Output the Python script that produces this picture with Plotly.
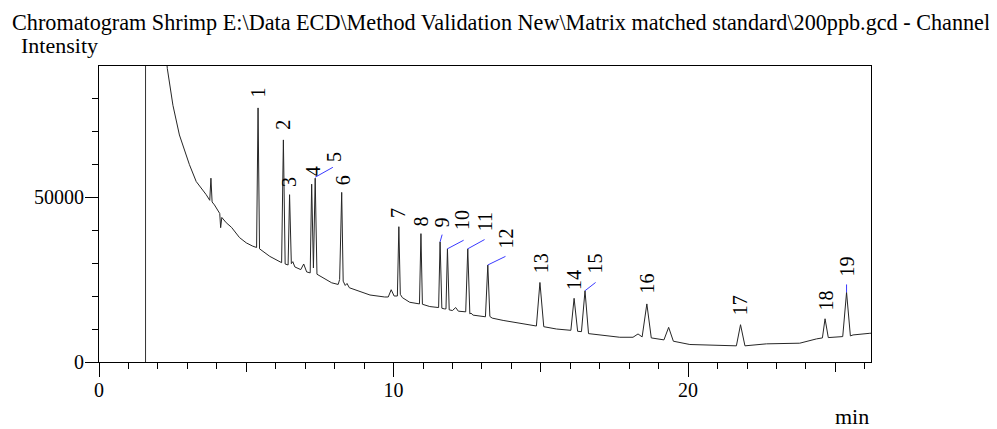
import plotly.graph_objects as go

# ---- data: chromatogram trace (time in min, intensity) ----
time_min = [
    2.20, 2.32, 2.51, 2.73, 3.07, 3.30, 3.64, 3.76, 3.80, 3.84, 3.92, 4.10, 4.13, 4.17,
    4.32, 4.50, 4.77, 5.00, 5.22, 5.35, 5.40, 5.45, 5.80, 6.20, 6.26, 6.32, 6.42, 6.47,
    6.53, 6.58, 6.65, 6.85, 6.95, 7.05, 7.17, 7.22, 7.28, 7.34, 7.40, 7.60, 7.90, 8.12,
    8.17, 8.24, 8.29, 8.36, 8.42, 8.50, 8.95, 9.20, 9.70, 9.82, 9.92, 10.02, 10.13, 10.18,
    10.23, 10.30, 10.55, 10.88, 10.93, 10.98, 11.23, 11.53, 11.58, 11.64, 11.72, 11.78,
    11.83, 11.89, 12.00, 12.11, 12.20, 12.45, 12.52, 12.59, 12.63, 12.70, 13.12, 13.20,
    13.27, 13.35, 13.72, 14.20, 14.60, 14.85, 14.97, 15.10, 15.53, 16.02, 16.13, 16.25,
    16.38, 16.50, 16.62, 17.11, 17.68, 18.13, 18.30, 18.44, 18.60, 18.75, 19.18, 19.34,
    19.50, 20.06, 20.96, 21.64, 21.78, 21.93, 22.66, 23.79, 24.36, 24.56, 24.65, 24.76,
    25.25, 25.38, 25.51, 25.60, 26.17, 26.25,
]
intensity = [
    100000, 88900, 77800, 68800, 59800, 54700, 50700, 49000, 55700, 48500, 47600, 45000,
    40700, 43800, 42200, 40800, 37700, 36100, 35100, 34700, 77000, 34300, 32000, 30100,
    67300, 29700, 29400, 50700, 29800, 30400, 28800, 28000, 29700, 27300, 27000, 53900,
    28500, 55700, 26600, 25500, 24000, 23500, 25000, 51400, 24500, 23200, 23800, 22500,
    21100, 20300, 19700, 19700, 21900, 20000, 20000, 41000, 20500, 19500, 18100, 17600,
    38900, 17500, 16800, 16500, 36400, 16300, 16100, 16100, 34300, 15800, 15600, 16500,
    15400, 15200, 34300, 14600, 14800, 14200, 13700, 29400, 13800, 13300, 12600, 11800,
    11200, 10900, 24100, 10700, 10000, 9600, 19300, 9300, 9200, 21600, 8600, 8000, 7500,
    7500, 8500, 7600, 17600, 7300, 6700, 10500, 6300, 5300, 5000, 4900, 11300, 4900, 5500,
    5700, 7000, 7300, 13100, 7400, 7700, 21100, 7900, 8200, 8700, 8750,
]

# ---- peak labels ----
peak_names = [str(i) for i in range(1, 20)]
label_time = [5.40, 6.24, 6.47, 7.27, 8.00, 8.31, 10.17, 10.94, 11.65, 12.35, 13.09,
              13.82, 15.01, 16.15, 16.85, 18.61, 21.79, 24.69, 25.41]
label_intensity = [79600, 69700, 52300, 55700, 59900, 52900, 42900, 40500, 40200, 39300,
                   39000, 33800, 26300, 21100, 26300, 20200, 13500, 15100, 25400]

# ---- blue leader lines (peak apex -> label) ----
leader_peak = ["5", "9", "10", "11", "12", "15", "19"]
leader_t0 = [7.34, 11.58, 11.83, 12.52, 13.20, 16.50, 25.38]
leader_i0 = [56000, 36400, 34300, 34300, 29400, 21600, 21100]
leader_t1 = [7.94, 11.65, 12.38, 13.09, 13.80, 16.86, 25.38]
leader_i1 = [59000, 38600, 36900, 37100, 32000, 24100, 23500]

injection_time = 1.58

x_tick_vals = [0, 10, 20]
y_tick_vals = [0, 50000]
x_range = [0, 26.21]
y_range = [0, 89700]

title_text = "Chromatogram Shrimp E:\\Data ECD\\Method Validation New\\Matrix matched standard\\200ppb.gcd - Channel"

# ---- figure ----
FONT = "Liberation Serif"
OFF = 8  # page body margin in the browser
WIDTH, HEIGHT = 997 - OFF, 429 - OFF
# plot area edges in window pixels (reference)
LEFT_W, RIGHT_W, TOP_W, BOT_W = 99.0, 870.7, 65.7, 361.7
L = LEFT_W - OFF
T = TOP_W - OFF
R = WIDTH - (RIGHT_W - OFF)
B = HEIGHT - (BOT_W - OFF)
PW = RIGHT_W - LEFT_W
PH = BOT_W - TOP_W


def px(xw):
    return (xw - LEFT_W) / PW


def py(yw):
    return (BOT_W - yw) / PH


fig = go.Figure()
fig.add_trace(go.Scatter(x=time_min, y=intensity, mode="lines",
                         line=dict(color="#262626", width=1), hoverinfo="skip",
                         showlegend=False, cliponaxis=True))
# empty trace to activate second x axis (5-min ticks)
fig.add_trace(go.Scatter(x=[None], y=[None], xaxis="x2", yaxis="y", showlegend=False))

shapes = [dict(type="line", xref="x", yref="paper", x0=injection_time, x1=injection_time,
               y0=0, y1=1, line=dict(color="#333333", width=1))]
for t0, i0, t1, i1 in zip(leader_t0, leader_i0, leader_t1, leader_i1):
    shapes.append(dict(type="line", xref="x", yref="y", x0=t0, y0=i0, x1=t1, y1=i1,
                       line=dict(color="#3a3aff", width=1)))

annotations = []
for name, t, v in zip(peak_names, label_time, label_intensity):
    annotations.append(dict(x=t, y=v, xref="x", yref="y", text=name, showarrow=False,
                            textangle=-90, xanchor="center", yanchor="bottom",
                            font=dict(family=FONT, size=20, color="black")))

annotations.append(dict(text=title_text, xref="paper", yref="paper", x=px(10), y=py(37),
                        xanchor="left", yanchor="bottom", showarrow=False,
                        font=dict(family=FONT, size=22.2, color="black")))
annotations.append(dict(text="Intensity", xref="paper", yref="paper", x=px(19), y=py(60),
                        xanchor="left", yanchor="bottom", showarrow=False,
                        font=dict(family=FONT, size=22, color="black")))
annotations.append(dict(text="min", xref="paper", yref="paper", x=px(871), y=py(431),
                        xanchor="right", yanchor="bottom", showarrow=False,
                        font=dict(family=FONT, size=22, color="black")))

fig.update_layout(
    width=WIDTH, height=HEIGHT,
    margin=dict(l=L, r=R, t=T, b=B, pad=0),
    paper_bgcolor="white", plot_bgcolor="white",
    shapes=shapes, annotations=annotations,
    font=dict(family=FONT, color="black"),
    xaxis=dict(range=x_range, showgrid=False, zeroline=False, showline=True, mirror=True,
               linecolor="black", linewidth=1, ticks="outside", ticklen=14, tickwidth=1,
               tickcolor="black", tickmode="array", tickvals=x_tick_vals,
               ticklabelstandoff=-4,
               tickfont=dict(family=FONT, size=20, color="black"),
               minor=dict(dtick=1, tick0=0, ticks="outside", ticklen=6, tickcolor="black",
                          showgrid=False)),
    xaxis2=dict(range=x_range, overlaying="x", anchor="y", side="bottom", showgrid=False,
                zeroline=False, showline=False, ticks="outside", ticklen=9, tickcolor="black",
                dtick=5, tick0=0, showticklabels=False),
    yaxis=dict(range=y_range, showgrid=False, zeroline=False, showline=True, mirror=True,
               linecolor="black", linewidth=1, ticks="outside", ticklen=13, tickwidth=1,
               tickcolor="black", tickmode="array", tickvals=y_tick_vals,
               ticktext=["0", "50000"], ticklabelstandoff=-3,
               tickfont=dict(family=FONT, size=20, color="black"),
               minor=dict(dtick=10000, tick0=0, ticks="outside", ticklen=6, tickcolor="black",
                          showgrid=False)),
)

fig.write_html("out.html")
